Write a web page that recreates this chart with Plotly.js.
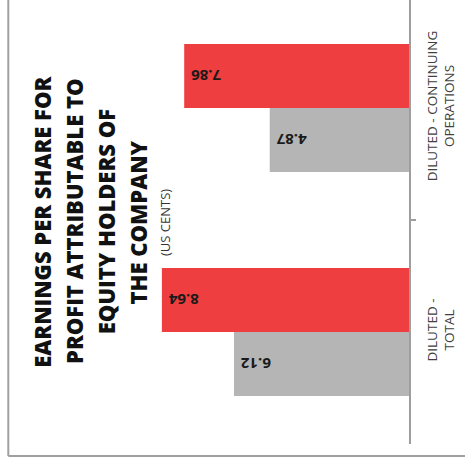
<!DOCTYPE html>
<html>
<head>
<meta charset="utf-8">
<script src="https://cdn.plot.ly/plotly-3.0.1.min.js"></script>
<style>
  html, body { margin: 0; padding: 0; background: #ffffff; }
  #chart { width: 465px; height: 469px; }
</style>
</head>
<body>
<div id="chart"></div>
<script>
// ---- data ----
const categories = ["DILUTED - CONTINUING<br>OPERATIONS", "DILUTED -<br>TOTAL"];
const redValues = [7.86, 8.64];
const grayValues = [4.87, 6.12];
const titleLines = ["EARNINGS PER SHARE FOR", "PROFIT ATTRIBUTABLE TO", "EQUITY HOLDERS OF", "THE COMPANY"];
const subtitle = "(US CENTS)";

// ---- layout geometry ----
const W = 465, H = 469;
const mL = 0, mR = 56, mT = 0, mB = 25;
const plotW = W - mL - mR;   // 409
const plotH = H - mT - mB;   // 444
const pxPerUnit = 28.6;
const xMax = plotW / pxPerUnit;

const FONT = "Open Sans, Noto Sans, DejaVu Sans, sans-serif";

function px2paperX(px) { return (px - mL) / plotW; }
function px2paperY(py) { return 1 - (py - mT) / plotH; }

const common = {
  type: "bar",
  orientation: "h",
  y: categories,
  texttemplate: "%{x:.2f}\u00a0",
  textposition: "inside",
  insidetextanchor: "end",
  textangle: 180,
  constraintext: "none",
  cliponaxis: false,
  textfont: { family: FONT, size: 15, weight: 700, color: "#1a1a1a" },
  hoverinfo: "skip"
};

const traces = [
  Object.assign({}, common, { x: redValues, marker: { color: "#ef3e3f" }, name: "red" }),
  Object.assign({}, common, { x: grayValues, marker: { color: "#b4b5b4" }, name: "gray" })
];

const titleX = [41.7, 74.0, 106.2, 138.4];
const annotations = titleLines.map((t, i) => ({
  text: t,
  xref: "paper", yref: "paper",
  x: px2paperX(titleX[i]), y: px2paperY(222),
  xanchor: "center", yanchor: "middle",
  textangle: -90,
  showarrow: false,
  font: { family: FONT, size: 22, weight: 800, color: "#111111" }
}));
annotations.push({
  text: subtitle,
  xref: "paper", yref: "paper",
  x: px2paperX(165), y: px2paperY(223),
  xanchor: "center", yanchor: "middle",
  textangle: -90,
  showarrow: false,
  font: { family: FONT, size: 13, color: "#333333" }
});

const frameX = px2paperX(8.3);
const frameY = px2paperY(456);

const layout = {
  width: W, height: H,
  margin: { l: mL, r: mR, t: mT, b: mB, pad: 0 },
  paper_bgcolor: "#ffffff",
  plot_bgcolor: "#ffffff",
  showlegend: false,
  barmode: "group",
  bargap: 0.429,
  bargroupgap: 0,
  xaxis: {
    range: [xMax, 0],
    visible: false,
    fixedrange: true
  },
  yaxis: {
    type: "category",
    categoryorder: "array",
    categoryarray: categories,
    range: [1.5, 1.5 - plotH / 224],
    side: "right",
    showline: true,
    linecolor: "#9e9e9e",
    linewidth: 1.5,
    ticks: "outside",
    tickson: "boundaries",
    ticklen: 5,
    tickcolor: "#9e9e9e",
    tickwidth: 1.5,
    tickangle: -90,
    ticklabelstandoff: 10,
    showgrid: false,
    zeroline: false,
    automargin: false,
    tickfont: { family: FONT, size: 13.5, color: "#404040" },
    fixedrange: true
  },
  annotations: annotations,
  shapes: [
    { type: "line", xref: "paper", yref: "paper", x0: frameX, x1: frameX, y0: frameY, y1: 1.2,
      line: { color: "#a0a0a0", width: 2 } },
    { type: "line", xref: "paper", yref: "paper", x0: frameX, x1: 1.3, y0: frameY, y1: frameY,
      line: { color: "#a0a0a0", width: 2 } }
  ]
};

Plotly.newPlot("chart", traces, layout, { displayModeBar: false, staticPlot: true });
</script>
</body>
</html>
